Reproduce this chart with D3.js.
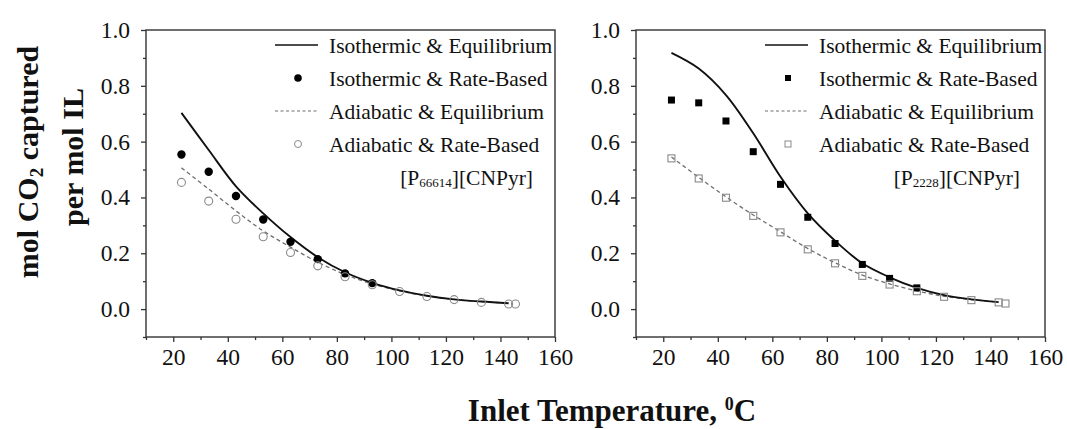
<!DOCTYPE html>
<html>
<head>
<meta charset="utf-8">
<script src="https://cdn.jsdelivr.net/npm/d3@7"></script>
<style>
  html, body { margin: 0; padding: 0; background: #fff; }
  svg { display: block; }
  text { font-family: "Liberation Serif", "DejaVu Serif", serif; fill: #111; }
</style>
</head>
<body>
<svg id="chart" width="1067" height="429"></svg>
<script>
// Inlet temperatures (°C) for the simulated curves and the rate-based points
const curveTemps = [23, 33, 43, 53, 63, 73, 83, 93, 103, 113, 123, 133, 143];
const pointTemps = [23, 33, 43, 53, 63, 73, 83, 93, 103, 113, 123, 133, 143, 145.5];

// [P66614][CNPyr] — mol CO2 captured per mol IL
const p66614IsoEq    = [0.703, 0.57, 0.44, 0.343, 0.258, 0.186, 0.132, 0.094, 0.067, 0.048, 0.035, 0.027, 0.021];
const p66614IsoRate  = [0.554, 0.492, 0.405, 0.321, 0.241, 0.179, 0.128, 0.093];
const p66614AdiEq    = [0.506, 0.43, 0.352, 0.28, 0.222, 0.168, 0.124, 0.09, 0.065, 0.047, 0.035, 0.027, 0.021];
const p66614AdiRate  = [0.454, 0.387, 0.322, 0.259, 0.203, 0.155, 0.116, 0.087, 0.063, 0.045, 0.034, 0.024, 0.018, 0.018];

// [P2228][CNPyr] — mol CO2 captured per mol IL
const p2228IsoEq     = [0.918, 0.862, 0.767, 0.63, 0.474, 0.343, 0.245, 0.164, 0.114, 0.076, 0.05, 0.035, 0.025];
const p2228IsoRate   = [0.749, 0.739, 0.674, 0.564, 0.447, 0.329, 0.235, 0.16, 0.11, 0.076];
const p2228AdiEq     = [0.545, 0.472, 0.402, 0.337, 0.277, 0.217, 0.166, 0.122, 0.09, 0.065, 0.046, 0.034, 0.025];
const p2228AdiRate   = [0.54, 0.468, 0.399, 0.334, 0.275, 0.214, 0.164, 0.119, 0.088, 0.064, 0.044, 0.032, 0.024, 0.02];

// Axis ticks
const xMajorTicks = [20, 40, 60, 80, 100, 120, 140, 160];
const xMinorTicks = [10, 30, 50, 70, 90, 110, 130, 150];
const yMajorTicks = [0.0, 0.2, 0.4, 0.6, 0.8, 1.0];
const yMinorTicks = [-0.1, 0.1, 0.3, 0.5, 0.7, 0.9];

const legendLabels = ["Isothermic & Equilibrium", "Isothermic & Rate-Based",
                      "Adiabatic & Equilibrium", "Adiabatic & Rate-Based"];

const svg = d3.select("#chart");
const plotTop = 30, plotBottom = 337, panelW = 409;
const axisColor = "#333";
const openColor = "#8a8a8a";

function drawPanel(left, cfg) {
  const x = d3.scaleLinear().domain([10, 160]).range([left, left + panelW]);
  const y = d3.scaleLinear().domain([-0.1, 1.0]).range([plotBottom, plotTop]);
  const g = svg.append("g");

  // frame
  g.append("rect")
    .attr("x", left).attr("y", plotTop)
    .attr("width", panelW).attr("height", plotBottom - plotTop)
    .attr("fill", "none").attr("stroke", axisColor).attr("stroke-width", 1.4);

  // bottom axis
  g.append("g").attr("transform", `translate(0,${plotBottom})`)
    .call(d3.axisBottom(x).tickValues(xMajorTicks).tickSize(5).tickPadding(6).tickFormat(d3.format("d")));
  g.append("g").attr("transform", `translate(0,${plotBottom})`)
    .call(d3.axisBottom(x).tickValues(xMinorTicks).tickSize(3).tickFormat(""));
  // left axis
  g.append("g").attr("transform", `translate(${left},0)`)
    .call(d3.axisLeft(y).tickValues(yMajorTicks).tickSize(5).tickPadding(11).tickFormat(d3.format(".1f")));
  g.append("g").attr("transform", `translate(${left},0)`)
    .call(d3.axisLeft(y).tickValues(yMinorTicks).tickSize(3).tickFormat(""));

  g.selectAll(".domain").remove();
  g.selectAll(".tick line").attr("stroke", axisColor).attr("stroke-width", 1.3);
  g.selectAll(".tick text").style("font-family", "'Liberation Serif', serif")
    .style("font-size", "23.5px").attr("fill", "#111");

  const line = d3.line().x((d, i) => x(curveTemps[i])).y(d => y(d)).curve(d3.curveCatmullRom.alpha(0.5));

  // adiabatic & equilibrium (dashed)
  g.append("path").attr("d", line(cfg.adiEq))
    .attr("fill", "none").attr("stroke", "#6f6f6f").attr("stroke-width", 1.3)
    .attr("stroke-dasharray", "4,3");
  // isothermic & equilibrium (solid)
  g.append("path").attr("d", line(cfg.isoEq))
    .attr("fill", "none").attr("stroke", "#111").attr("stroke-width", 1.9);

  // rate-based markers
  const isoPts = cfg.isoRate.map((v, i) => [pointTemps[i], v]);
  const adiPts = cfg.adiRate.map((v, i) => [pointTemps[i], v]);
  if (cfg.shape === "circle") {
    g.selectAll(".iso").data(isoPts).join("circle")
      .attr("cx", d => x(d[0])).attr("cy", d => y(d[1])).attr("r", 4.2).attr("fill", "#000");
    g.selectAll(".adi").data(adiPts).join("circle")
      .attr("cx", d => x(d[0])).attr("cy", d => y(d[1])).attr("r", 4.0)
      .attr("fill", "none").attr("stroke", openColor).attr("stroke-width", 1.1);
  } else {
    const s = 7;
    g.selectAll(".iso").data(isoPts).join("rect")
      .attr("x", d => x(d[0]) - s / 2).attr("y", d => y(d[1]) - s / 2)
      .attr("width", s).attr("height", s).attr("fill", "#000");
    g.selectAll(".adi").data(adiPts).join("rect")
      .attr("x", d => x(d[0]) - s / 2).attr("y", d => y(d[1]) - s / 2)
      .attr("width", s).attr("height", s)
      .attr("fill", "none").attr("stroke", openColor).attr("stroke-width", 1.1);
  }

  // legend
  const R = left + panelW;
  const rows = [45, 78, 111, 144];
  const lx0 = R - 280, lx1 = R - 237, mx = R - 257, tx = R - 226;
  g.append("line").attr("x1", lx0).attr("x2", lx1).attr("y1", rows[0]).attr("y2", rows[0])
    .attr("stroke", "#111").attr("stroke-width", 1.6);
  g.append("line").attr("x1", lx0).attr("x2", lx1).attr("y1", rows[2]).attr("y2", rows[2])
    .attr("stroke", "#6f6f6f").attr("stroke-width", 1.2).attr("stroke-dasharray", "3,2.5");
  if (cfg.shape === "circle") {
    g.append("circle").attr("cx", mx).attr("cy", rows[1]).attr("r", 3.8).attr("fill", "#000");
    g.append("circle").attr("cx", mx).attr("cy", rows[3]).attr("r", 3.5)
      .attr("fill", "none").attr("stroke", openColor).attr("stroke-width", 1);
  } else {
    g.append("rect").attr("x", mx - 3).attr("y", rows[1] - 3).attr("width", 6).attr("height", 6).attr("fill", "#000");
    g.append("rect").attr("x", mx - 3).attr("y", rows[3] - 3).attr("width", 6).attr("height", 6)
      .attr("fill", "none").attr("stroke", openColor).attr("stroke-width", 1);
  }
  legendLabels.forEach((t, i) => {
    g.append("text").attr("x", tx).attr("y", rows[i]).attr("dy", "0.35em")
      .style("font-size", "21.5px").text(t);
  });
  const name = g.append("text").attr("x", R - cfg.nameGap).attr("y", 177).attr("dy", "0.35em")
    .attr("text-anchor", "end").style("font-size", "21.5px");
  name.append("tspan").text("[P");
  name.append("tspan").attr("dy", 2).style("font-size", "13px").text(cfg.sub);
  name.append("tspan").attr("dy", -2).text("][CNPyr]");
}

drawPanel(146, {
  shape: "circle", sub: "66614", nameGap: 22,
  isoEq: p66614IsoEq, isoRate: p66614IsoRate, adiEq: p66614AdiEq, adiRate: p66614AdiRate
});
drawPanel(636, {
  shape: "square", sub: "2228", nameGap: 25,
  isoEq: p2228IsoEq, isoRate: p2228IsoRate, adiEq: p2228AdiEq, adiRate: p2228AdiRate
});

// y axis title (two lines)
const yt1 = svg.append("text").attr("transform", "translate(27,162) rotate(-90)")
  .attr("text-anchor", "middle").attr("dy", "0.35em")
  .style("font-size", "30px").style("font-weight", "bold");
yt1.append("tspan").text("mol CO");
yt1.append("tspan").attr("dy", 5).style("font-size", "19px").text("2");
yt1.append("tspan").attr("dy", -5).text(" captured");
svg.append("text").attr("transform", "translate(72,157) rotate(-90)")
  .attr("text-anchor", "middle").attr("dy", "0.35em")
  .style("font-size", "30px").style("font-weight", "bold").text("per mol IL");

// x axis title
const xt = svg.append("text").attr("x", 612).attr("y", 421).attr("text-anchor", "middle")
  .style("font-size", "31px").style("font-weight", "bold");
xt.append("tspan").text("Inlet Temperature, ");
xt.append("tspan").attr("dy", -11).style("font-size", "18px").text("0");
xt.append("tspan").attr("dy", 11).text("C");
</script>
</body>
</html>
